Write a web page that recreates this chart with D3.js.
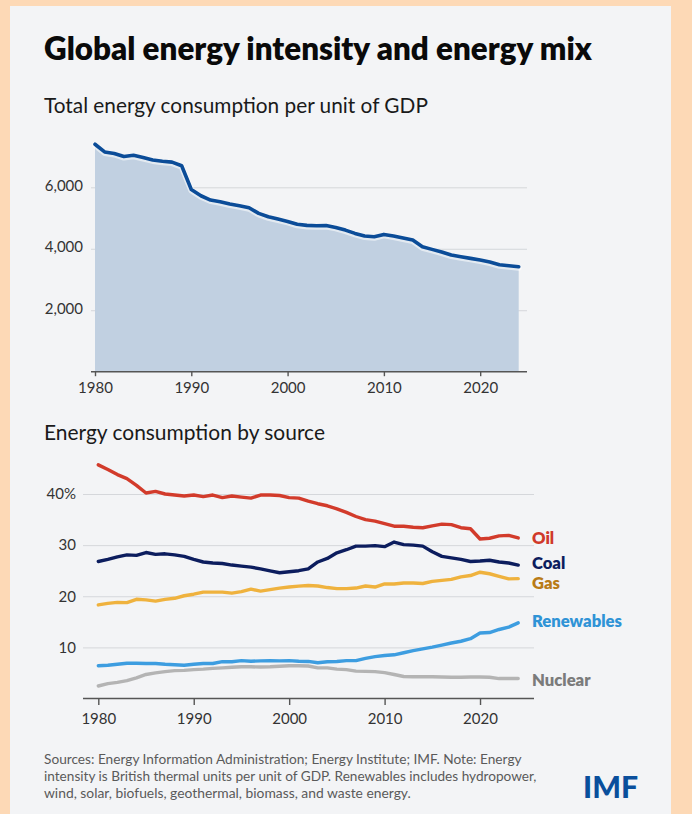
<!DOCTYPE html>
<html>
<head>
<meta charset="utf-8">
<script src="https://cdn.jsdelivr.net/npm/d3@7"></script>
<style>
  html, body { margin: 0; padding: 0; background: #fdd9b6; }
  svg { display: block; }
  text { font-family: Lato, "Noto Sans", sans-serif; }
</style>
</head>
<body>
<svg id="chart" width="692" height="814"></svg>
<script>
// ---------- DATA ----------
const years = d3.range(1980, 2025);
const intensity = [
  7400,7150,7100,7000,7040,6970,6890,6850,6820,6700,
  5930,5725,5585,5530,5455,5400,5335,5150,5040,4965,
  4890,4795,4760,4750,4755,4695,4608,4500,4413,4390,
  4467,4413,4348,4283,4065,3980,3893,3795,3740,3687,
  3632,3567,3480,3448,3415
];
const oil = [
  45.7,44.8,43.8,43.0,41.7,40.2,40.5,40.0,39.8,39.6,
  39.8,39.5,39.8,39.3,39.6,39.4,39.2,39.8,39.8,39.7,
  39.3,39.2,38.6,38.1,37.7,37.1,36.4,35.6,35.0,34.7,
  34.2,33.7,33.7,33.5,33.4,33.75,34.1,34.0,33.4,33.2,
  31.2,31.35,31.8,31.9,31.4
];
const coal = [
  26.8,27.2,27.7,28.1,28.0,28.55,28.2,28.3,28.1,27.8,
  27.2,26.7,26.5,26.4,26.1,25.9,25.7,25.35,24.96,24.6,
  24.8,25.0,25.35,26.7,27.4,28.5,29.1,29.8,29.8,29.9,
  29.7,30.6,30.1,30.0,29.8,28.7,27.8,27.5,27.2,26.8,
  26.9,27.05,26.7,26.5,26.1
];
const gas = [
  18.3,18.6,18.8,18.75,19.4,19.3,19.05,19.4,19.6,20.1,
  20.4,20.8,20.8,20.8,20.6,20.9,21.4,21.0,21.3,21.6,
  21.8,21.97,22.1,22.0,21.7,21.5,21.5,21.6,22.0,21.8,
  22.4,22.4,22.6,22.6,22.5,22.9,23.1,23.3,23.8,24.05,
  24.7,24.4,23.9,23.4,23.45
];
const renewables = [
  6.4,6.5,6.7,6.9,6.9,6.85,6.85,6.7,6.6,6.5,
  6.7,6.85,6.85,7.2,7.2,7.4,7.3,7.35,7.4,7.35,
  7.4,7.3,7.25,7.0,7.2,7.25,7.4,7.4,7.85,8.2,
  8.4,8.55,8.95,9.35,9.7,10.05,10.45,10.85,11.2,11.7,
  12.8,12.9,13.5,13.95,14.8
];
const nuclear = [
  2.45,2.9,3.15,3.5,4.05,4.7,5.0,5.25,5.45,5.5,
  5.65,5.75,5.9,6.0,6.1,6.2,6.2,6.15,6.2,6.3,
  6.4,6.4,6.35,6.0,6.0,5.75,5.65,5.35,5.3,5.25,
  5.05,4.7,4.3,4.25,4.25,4.25,4.2,4.15,4.15,4.2,
  4.2,4.15,3.9,3.9,3.9
];
const seriesNames = ["Oil", "Coal", "Gas", "Renewables", "Nuclear"];
const seriesValues = [oil, coal, gas, renewables, nuclear];
const xTicks = [1980, 1990, 2000, 2010, 2020];
const yTicksTop = [2000, 4000, 6000];
const yTicksBottom = [10, 20, 30, 40];
const title = "Global energy intensity and energy mix";
const subtitle1 = "Total energy consumption per unit of GDP";
const subtitle2 = "Energy consumption by source";
const footer = [
  "Sources: Energy Information Administration; Energy Institute; IMF. Note: Energy",
  "intensity is British thermal units per unit of GDP. Renewables includes hydropower,",
  "wind, solar, biofuels, geothermal, biomass, and waste energy."
];

// ---------- STYLE ----------
const lineColors = { Oil: "#d23b2b", Coal: "#0c1d5e", Gas: "#efb23e", Renewables: "#3d9de0", Nuclear: "#b4b4b4" };
const labelColors = { Oil: "#d0392a", Coal: "#0c1d5e", Gas: "#b97b17", Renewables: "#2f93d6", Nuclear: "#7b7b7b" };
const labelNudge = { Oil: 0, Coal: -2, Gas: 4, Renewables: -2, Nuclear: 1 };

const svg = d3.select("#chart");
svg.append("rect").attr("x", 0).attr("y", 0).attr("width", 692).attr("height", 814).attr("fill", "#fdd9b6");
svg.append("rect").attr("x", 10).attr("y", 6).attr("width", 661).attr("height", 808).attr("fill", "#f3f4f6");

function fitText(sel, target) {
  const w = sel.node().getComputedTextLength();
  const fs = parseFloat(sel.attr("font-size"));
  sel.attr("font-size", fs * target / w);
}

// Titles
fitText(svg.append("text").attr("x", 44).attr("y", 60).attr("font-size", 27).attr("font-weight", 800)
  .attr("fill", "#0a0a0a").text(title), 548);
fitText(svg.append("text").attr("x", 44).attr("y", 113).attr("font-size", 20).attr("fill", "#1a1a1a")
  .text(subtitle1), 384);
fitText(svg.append("text").attr("x", 44).attr("y", 440).attr("font-size", 20).attr("fill", "#1a1a1a")
  .text(subtitle2), 281);

// ---------- TOP CHART ----------
const xTop = d3.scaleLinear().domain([1980, 2024]).range([95, 518.7]);
const yTop = d3.scaleLinear().domain([0, 6000]).range([371.7, 187.3]);

const gTop = svg.append("g");
const yAxisTop = d3.axisLeft(yTop).tickValues(yTicksTop).tickFormat(d3.format(",")).tickSize(-(527 - 91)).tickPadding(8);
const gyt = gTop.append("g").attr("transform", "translate(91,0)").call(yAxisTop);
gyt.select(".domain").remove();
gyt.selectAll(".tick line").attr("stroke", "#d5d7db").attr("stroke-width", 1);
gyt.selectAll(".tick text").attr("font-size", 15).attr("fill", "#333").attr("font-family", "Lato, sans-serif").attr("dy", "0.2em");

const topData = years.map((y, i) => ({ year: y, v: intensity[i] }));
gTop.append("path").datum(topData)
  .attr("fill", "#c1d0e1")
  .attr("d", d3.area().x(d => xTop(d.year)).y0(yTop(0)).y1(d => yTop(d.v)));
gTop.append("path").datum(topData)
  .attr("fill", "none").attr("stroke", "#ffffff").attr("stroke-opacity", 0.55).attr("stroke-width", 6)
  .attr("stroke-linejoin", "round").attr("stroke-linecap", "round")
  .attr("transform", "translate(0,1)")
  .attr("d", d3.line().x(d => xTop(d.year)).y(d => yTop(d.v)));
gTop.append("path").datum(topData)
  .attr("fill", "none").attr("stroke", "#0b4c98").attr("stroke-width", 3.6)
  .attr("stroke-linejoin", "round").attr("stroke-linecap", "round")
  .attr("d", d3.line().x(d => xTop(d.year)).y(d => yTop(d.v)));

const xAxisTop = d3.axisBottom(xTop).tickValues(xTicks).tickFormat(d3.format("d")).tickSize(4.5).tickPadding(6.5);
const gxt = gTop.append("g").attr("transform", `translate(0,${yTop(0)})`).call(xAxisTop);
gxt.select(".domain").remove();
gxt.selectAll(".tick line").attr("stroke", "#555").attr("stroke-width", 1.4);
gxt.selectAll(".tick text").attr("font-size", 15).attr("fill", "#333").attr("font-family", "Lato, sans-serif");
gTop.append("line").attr("x1", 91).attr("x2", 527).attr("y1", yTop(0)).attr("y2", yTop(0))
  .attr("stroke", "#555").attr("stroke-width", 1.6);

// ---------- BOTTOM CHART ----------
const xBot = d3.scaleLinear().domain([1980, 2024]).range([98.3, 518.2]);
const yBot = d3.scaleLinear().domain([0, 40]).range([698.5, 494]);
const gBot = svg.append("g");
const yAxisBot = d3.axisLeft(yBot).tickValues(yTicksBottom).tickFormat(d => d === 40 ? "40%" : d).tickSize(-(534 - 83)).tickPadding(7);
const gyb = gBot.append("g").attr("transform", "translate(83,0)").call(yAxisBot);
gyb.select(".domain").remove();
gyb.selectAll(".tick line").attr("stroke", "#d5d7db").attr("stroke-width", 1);
gyb.selectAll(".tick text").attr("font-size", 15).attr("fill", "#333").attr("font-family", "Lato, sans-serif");

const lineGen = d3.line().x(d => xBot(d.year)).y(d => yBot(d.v));
seriesNames.slice().reverse().forEach(name => {
  const vals = seriesValues[seriesNames.indexOf(name)];
  const data = years.map((y, i) => ({ year: y, v: vals[i] }));
  gBot.append("path").datum(data)
    .attr("fill", "none").attr("stroke", lineColors[name]).attr("stroke-width", 3.4)
    .attr("stroke-linejoin", "round").attr("stroke-linecap", "round")
    .attr("d", lineGen);
});
const labels = seriesNames.map((name, k) => {
  const vals = seriesValues[k];
  return gBot.append("text")
    .attr("x", 532)
    .attr("y", yBot(vals[vals.length - 1]) + labelNudge[name])
    .attr("dy", "0.36em")
    .attr("font-size", 15.5).attr("font-weight", 800)
    .attr("fill", labelColors[name])
    .text(name);
});
// scale label font so "Renewables" matches reference width
const renW = labels[3].node().getComputedTextLength();
const labelFs = 15.5 * 90 / renW;
labels.forEach(l => l.attr("font-size", labelFs));

const xAxisBot = d3.axisBottom(xBot).tickValues(xTicks).tickFormat(d3.format("d")).tickSize(6.5).tickPadding(8.5);
const gxb = gBot.append("g").attr("transform", `translate(0,${yBot(0)})`).call(xAxisBot);
gxb.select(".domain").remove();
gxb.selectAll(".tick line").attr("stroke", "#555").attr("stroke-width", 1.4);
gxb.selectAll(".tick text").attr("font-size", 15).attr("fill", "#333").attr("font-family", "Lato, sans-serif");
gBot.append("line").attr("x1", 83).attr("x2", 534).attr("y1", yBot(0)).attr("y2", yBot(0))
  .attr("stroke", "#555").attr("stroke-width", 1.6);

// ---------- FOOTER ----------
const footerWidths = [478, 493, 367];
footer.forEach((line, i) => {
  const t = svg.append("text").attr("x", 44).attr("y", 764 + i * 17)
    .attr("font-size", 13).attr("fill", "#5a5a5a").text(line);
  fitText(t, footerWidths[i]);
});
const imf = svg.append("text").attr("x", 583).attr("y", 797.5).attr("font-size", 31)
  .attr("font-weight", 900).attr("fill", "#0a4f9c").text("IMF");
imf.attr("textLength", 55).attr("lengthAdjust", "spacingAndGlyphs");
</script>
</body>
</html>
